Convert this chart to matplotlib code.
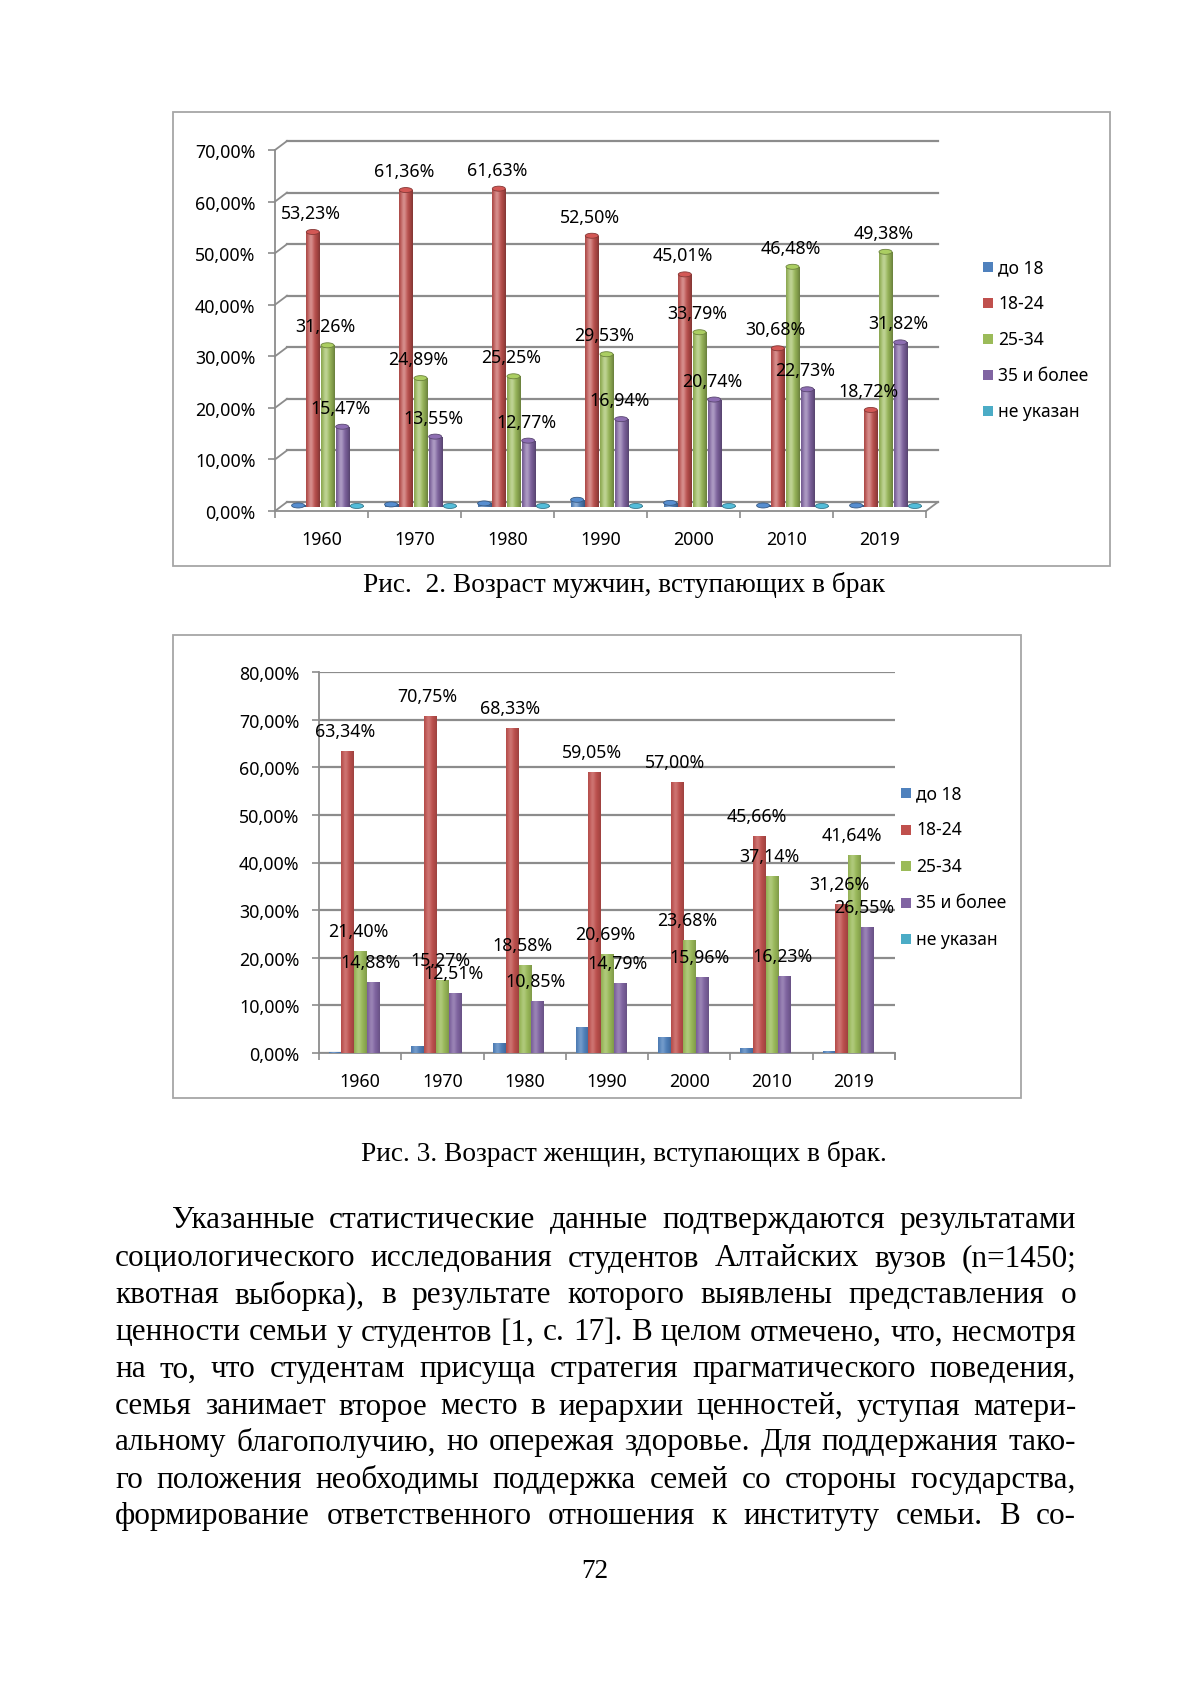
import numpy as np
import matplotlib
matplotlib.use("Agg")
import matplotlib.pyplot as plt
from matplotlib.patches import Rectangle, Ellipse
from matplotlib.transforms import ScaledTranslation
from matplotlib.ticker import FuncFormatter

# data
years = ["1960", "1970", "1980", "1990", "2000", "2010", "2019"]
groups = ["до 18", "18-24", "25-34", "35 и более", "не указан"]
colors = ["#4F81BD", "#C0504D", "#9BBB59", "#8064A2", "#4BACC6"]

men_u18 = [0.2, 0.4, 0.6, 1.3, 0.7, 0.2, 0.2]
men_18_24 = [53.23, 61.36, 61.63, 52.50, 45.01, 30.68, 18.72]
men_25_34 = [31.26, 24.89, 25.25, 29.53, 33.79, 46.48, 49.38]
men_35 = [15.47, 13.55, 12.77, 16.94, 20.74, 22.73, 31.82]
men_na = [0.1, 0.1, 0.1, 0.1, 0.1, 0.1, 0.1]

women_u18 = [0.3, 1.5, 2.2, 5.4, 3.3, 1.0, 0.5]
women_18_24 = [63.34, 70.75, 68.33, 59.05, 57.00, 45.66, 31.26]
women_25_34 = [21.40, 15.27, 18.58, 20.69, 23.68, 37.14, 41.64]
women_35 = [14.88, 12.51, 10.85, 14.79, 15.96, 16.23, 26.55]
women_na = [0, 0, 0, 0, 0, 0, 0]

caption1 = "Рис.  2. Возраст мужчин, вступающих в брак"
caption2 = "Рис. 3. Возраст женщин, вступающих в брак."
body = [
    "Указанные статистические данные подтверждаются результатами",
    "социологического исследования студентов Алтайских вузов (n=1450;",
    "квотная выборка), в результате которого выявлены представления о",
    "ценности семьи у студентов [1, с. 17]. В целом отмечено, что, несмотря",
    "на то, что студентам присуща стратегия прагматического поведения,",
    "семья занимает второе место в иерархии ценностей, уступая матери-",
    "альному благополучию, но опережая здоровье. Для поддержания тако-",
    "го положения необходимы поддержка семей со стороны государства,",
    "формирование ответственного отношения к институту семьи. В со-",
]
page_no = "72"

W, H = 1190, 1683
SANS = ["Noto Sans", "DejaVu Sans"]
SERIF = ["Liberation Serif", "DejaVu Serif"]
GRID = "#8c8c8c"
TXT = "#000000"
FS = 12.8  # chart text size

fig = plt.figure(figsize=(W / 100, H / 100), dpi=100)
fig.patch.set_facecolor("white")


def fx(x):
    return x / W


def fy(y):
    return 1 - y / H


def pct(v, pos=None):
    return f"{v:.2f}".replace(".", ",") + "%"


def cyl_grad(c, amp):
    base = np.array(matplotlib.colors.to_rgb(c))
    t = np.linspace(0, 1, 32)
    light = amp * np.exp(-((t - 0.35) / 0.22) ** 2)
    dark = 1 - amp * 0.9 * (np.abs(t - 0.38) / 0.62) ** 2
    col = base[None, :] + (1 - base[None, :]) * light[:, None]
    col = col * dark[:, None]
    return np.clip(col, 0, 1)[None, :, :]


def draw_bars(ax, series, spacing, width, tr, amp, caps=None):
    x = np.arange(len(years)) + 0.5
    for k, (vals, c) in enumerate(zip(series, colors)):
        pos = x + (k - 2) * spacing
        bars = ax.bar(pos, vals, width, color=c, transform=tr, zorder=3)
        grad = cyl_grad(c, amp)
        rgb = np.array(matplotlib.colors.to_rgb(c))
        for b in bars:
            x0, h = b.get_x(), b.get_height()
            if h <= 0:
                continue
            im = ax.imshow(grad, extent=(x0, x0 + width, 0, h), aspect="auto",
                           transform=tr, zorder=3.5, interpolation="bilinear")
            im.set_clip_path(b)
            if caps is not None:
                cap = Ellipse((x0 + width / 2, h), width, caps,
                              facecolor=np.clip(rgb * 1.1, 0, 1),
                              edgecolor=rgb * 0.7,
                              lw=0.6, transform=tr, zorder=4)
                ax.add_patch(cap)
    return x


def labels(ax, series, spacing, tr, dy):
    x = np.arange(len(years)) + 0.5
    for k in (1, 2, 3):
        for i, v in enumerate(series[k]):
            ax.annotate(pct(v), (x[i] + (k - 2) * spacing, v), xycoords=tr,
                        xytext=(-2, dy), textcoords="offset pixels",
                        ha="center", va="center", fontsize=FS,
                        family=SANS, color=TXT, zorder=6, annotation_clip=False)


def legend(x_marker, y0, step):
    for k, (g, c) in enumerate(zip(groups, colors)):
        y = y0 + k * step
        fig.patches.append(Rectangle((fx(x_marker), fy(y + 5)), 10 / W, 10 / H,
                                     transform=fig.transFigure, facecolor=c,
                                     edgecolor="none"))
        fig.text(fx(x_marker + 15), fy(y), g, ha="left", va="center",
                 fontsize=12.6, family=SANS, color=TXT)


def frame(x0, y0, x1, y1):
    fig.patches.append(Rectangle((fx(x0), fy(y1)), (x1 - x0) / W, (y1 - y0) / H,
                                 transform=fig.transFigure, facecolor="white",
                                 edgecolor="#a6a6a6", lw=1.3, zorder=-1))


def style_axes(ax, ymax):
    ax.set_xlim(0, len(years))
    ax.set_ylim(0, ymax)
    ax.set_yticks(np.arange(0, ymax + 1, 10))
    ax.yaxis.set_major_formatter(FuncFormatter(pct))
    ax.set_xticks(np.arange(len(years)) + 0.5, years)
    ax.set_xticks(np.arange(len(years) + 1), minor=True)
    ax.tick_params(axis="x", which="major", length=0, pad=14, labelsize=FS)
    ax.tick_params(axis="x", which="minor", length=5, width=1.2, color=GRID)
    ax.tick_params(axis="y", length=5, width=1.2, color=GRID, pad=9, labelsize=FS)
    for lab in ax.get_xticklabels() + ax.get_yticklabels():
        lab.set_family(SANS)
        lab.set_color(TXT)
    for s in ("top", "right"):
        ax.spines[s].set_visible(False)
    for s in ("left", "bottom"):
        ax.spines[s].set_color(GRID)
        ax.spines[s].set_linewidth(1.3)
    ax.patch.set_alpha(0)


# ---- chart 1 (men), pseudo-3D ----
frame(173, 113, 1110, 567)
ax1 = fig.add_axes([fx(275), fy(512), 651 / W, 361 / H])
style_axes(ax1, 70)
px_x = 651 / 7
px_y = 361 / 70
dxb, dyb = 12 / px_x, 9 / px_y  # depth of back wall in data units
for v in range(0, 71, 10):
    ax1.plot([0, dxb], [v, v + dyb], color=GRID, lw=1.3, clip_on=False, zorder=1)
    ax1.plot([dxb, 7 + dxb], [v + dyb, v + dyb], color=GRID, lw=1.6,
             clip_on=False, zorder=1)
ax1.plot([7, 7 + dxb], [0, dyb], color=GRID, lw=1.3, clip_on=False, zorder=1)
tr1 = ax1.transData + ScaledTranslation(0.06, 0.045, fig.dpi_scale_trans)
men = [men_u18, men_18_24, men_25_34, men_35, men_na]
draw_bars(ax1, men, 0.158, 0.14, tr1, 0.35, caps=5 / px_y)
ax1.set_xlim(0, 7)
ax1.set_ylim(0, 70)
labels(ax1, men, 0.158, tr1, 19)
legend(983, 268, 36)

fig.text(fx(624), fy(585), caption1, ha="center", va="center",
         fontsize=19.7, family=SERIF, color=TXT)

# ---- chart 2 (women) ----
frame(173, 636, 1021, 1099)
ax2 = fig.add_axes([fx(319), fy(1054), 576 / W, 381 / H])
style_axes(ax2, 80)
ax2.yaxis.grid(True, color=GRID, lw=1.6, zorder=1)
ax2.set_axisbelow(True)
ax2.plot([7, 7], [0, -1.3], color=GRID, lw=1.2, clip_on=False)
women = [women_u18, women_18_24, women_25_34, women_35, women_na]
draw_bars(ax2, women, 0.154, 0.146, ax2.transData, 0.2)
ax2.set_xlim(0, 7)
ax2.set_ylim(0, 80)
labels(ax2, women, 0.154, ax2.transData, 20)
legend(901, 794, 36.5)

fig.text(fx(624), fy(1154), caption2, ha="center", va="center",
         fontsize=19.7, family=SERIF, color=TXT)

# ---- body text, justified ----
renderer = fig.canvas.get_renderer()
line_y = [1221, 1259, 1296, 1333, 1370, 1407, 1443, 1481, 1517]
for i, (line, y) in enumerate(zip(body, line_y)):
    words = line.split()
    x0 = 172 if i == 0 else 115
    x1 = 1076
    texts = [fig.text(0, fy(y), w, ha="left", va="center", fontsize=22.5,
                      family=SERIF, color=TXT) for w in words]
    widths = [t.get_window_extent(renderer).width for t in texts]
    gap = (x1 - x0 - sum(widths)) / (len(words) - 1)
    x = x0
    for t, wd in zip(texts, widths):
        t.set_x(fx(x))
        x += wd + gap

fig.text(fx(595), fy(1572), page_no, ha="center", va="center",
         fontsize=19.5, family=SERIF, color=TXT)

fig.savefig("out.png", dpi=100, facecolor="white")
